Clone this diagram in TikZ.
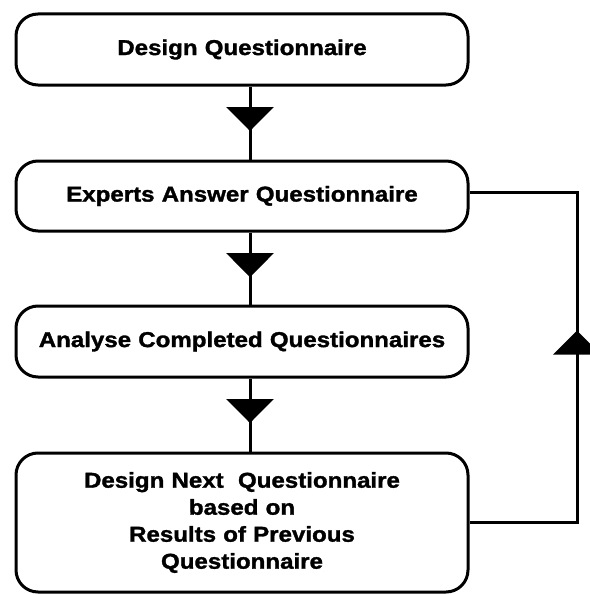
\documentclass[tikz,border=0pt]{standalone}
\usepackage{fontspec}
\setmainfont{Liberation Sans}[BoldFeatures={FakeStretch=1.12, FakeBold=1.5}]
\usetikzlibrary{arrows.meta,decorations.markings}
\begin{document}
\begin{tikzpicture}[x=1pt,y=-1pt,
  box/.style={draw, line width=3pt, rounded corners=22pt, minimum width=452pt,
    text width=452pt, inner sep=0pt, align=center,
    font=\fontsize{21.5}{27}\selectfont\bfseries},
  link/.style={line width=3pt, postaction={decorate},
    decoration={markings, mark=at position #1 with {\arrow{Triangle[width=47pt,length=24pt]}}}},
  plain/.style={line width=3pt}
]
\useasboundingbox (0,0) rectangle (589,594);
\coordinate (ax) at (250,0);
\coordinate (fx) at (577,0);
\node[box, minimum height=71pt] (b1) at (242,49.5) {Design Questionnaire};
\node[box, minimum height=70pt] (b2) at (242,196) {Experts Answer Questionnaire};
\node[box, minimum height=71pt] (b3) at (242,341.5) {Analyse Completed Questionnaires};
\node[box, minimum height=139pt] (b4) at (242,522.5) {Design Next\ \ Questionnaire\\based on\\Results of Previous\\Questionnaire};
\coordinate (fin) at ([yshift=4pt]b2.east);
\draw[link=0.61] (b1.south -| ax) -- (b2.north -| ax);
\draw[link=0.62] (b2.south -| ax) -- (b3.north -| ax);
\draw[link=0.61] (b3.south -| ax) -- (b4.north -| ax);
\draw[link=299.5pt] (b4.east) -- (b4.east -| fx) -- (fin -| fx) -- (fin);
\end{tikzpicture}
\end{document}
